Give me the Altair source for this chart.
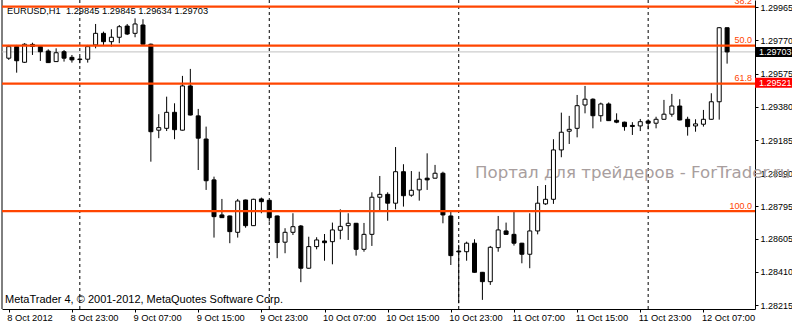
import altair as alt
import pandas as pd

# ---- data (EURUSD H1, 8 Oct 2012 15:00 .. 12 Oct 2012 10:00) ----
hour_index = list(range(92))
opens = [
    1.29666, 1.29734, 1.29642, 1.29747, 1.29734, 1.29708, 1.29646, 1.29704, 1.29671, 1.29661,
    1.29660, 1.29744, 1.29812, 1.29763, 1.29789, 1.29855, 1.29812, 1.29861, 1.29748, 1.29243,
    1.29254, 1.29348, 1.29243, 1.29503, 1.29327, 1.29191, 1.28951, 1.28745, 1.28739, 1.28643,
    1.28833, 1.28682, 1.28839, 1.28831, 1.28739, 1.28585, 1.28643, 1.28680, 1.28432, 1.28559,
    1.28592, 1.28588, 1.28655, 1.28682, 1.28696, 1.28543, 1.28631, 1.28849, 1.28866, 1.28814,
    1.28999, 1.28861, 1.28892, 1.28961, 1.28961, 1.28990, 1.28739, 1.28533, 1.28529, 1.28579,
    1.28408, 1.28353, 1.28553, 1.28651, 1.28631, 1.28579, 1.28514, 1.28651, 1.28810, 1.28837,
    1.29127, 1.29237, 1.29254, 1.29391, 1.29425, 1.29328, 1.29397, 1.29301, 1.29290, 1.29271,
    1.29268, 1.29297, 1.29284, 1.29307, 1.29337, 1.29385, 1.29307, 1.29268, 1.29278, 1.29307,
    1.29410, 1.29845,
]
highs = [
    1.29744, 1.29744, 1.29754, 1.29757, 1.29740, 1.29718, 1.29724, 1.29714, 1.29685, 1.29675,
    1.29744, 1.29867, 1.29822, 1.29836, 1.29861, 1.29867, 1.29900, 1.29895, 1.29752, 1.29337,
    1.29440, 1.29401, 1.29562, 1.29603, 1.29368, 1.29264, 1.28970, 1.28839, 1.28741, 1.28839,
    1.28835, 1.28840, 1.28847, 1.28833, 1.28741, 1.28667, 1.28755, 1.28686, 1.28617, 1.28614,
    1.28633, 1.28700, 1.28778, 1.28755, 1.28698, 1.28698, 1.28878, 1.28974, 1.28878, 1.29144,
    1.29043, 1.29003, 1.28999, 1.29107, 1.29039, 1.28999, 1.28764, 1.28569, 1.28588, 1.28602,
    1.28410, 1.28563, 1.28739, 1.28700, 1.28764, 1.28581, 1.28755, 1.28915, 1.28921, 1.29190,
    1.29346, 1.29327, 1.29450, 1.29503, 1.29430, 1.29405, 1.29406, 1.29342, 1.29293, 1.29290,
    1.29309, 1.29307, 1.29322, 1.29421, 1.29456, 1.29425, 1.29322, 1.29307, 1.29362, 1.29460,
    1.29848, 1.29845,
]
lows = [
    1.29656, 1.29581, 1.29638, 1.29685, 1.29650, 1.29638, 1.29644, 1.29646, 1.29640, 1.29636,
    1.29640, 1.29724, 1.29744, 1.29734, 1.29754, 1.29802, 1.29789, 1.29746, 1.29058, 1.29196,
    1.29238, 1.29190, 1.29241, 1.29330, 1.29009, 1.28892, 1.28612, 1.28727, 1.28579, 1.28612,
    1.28670, 1.28680, 1.28755, 1.28706, 1.28491, 1.28520, 1.28627, 1.28350, 1.28430, 1.28543,
    1.28476, 1.28455, 1.28602, 1.28598, 1.28506, 1.28529, 1.28563, 1.28774, 1.28711, 1.28778,
    1.28794, 1.28852, 1.28829, 1.28892, 1.28959, 1.28696, 1.28451, 1.28226, 1.28476, 1.28406,
    1.28246, 1.28334, 1.28529, 1.28629, 1.28565, 1.28461, 1.28432, 1.28631, 1.28804, 1.28810,
    1.29084, 1.29162, 1.29201, 1.29342, 1.29254, 1.29293, 1.29297, 1.29284, 1.29240, 1.29215,
    1.29238, 1.29248, 1.29254, 1.29305, 1.29322, 1.29301, 1.29211, 1.29234, 1.29264, 1.29305,
    1.29305, 1.29634,
]
closes = [
    1.29734, 1.29651, 1.29748, 1.29735, 1.29704, 1.29640, 1.29698, 1.29666, 1.29656, 1.29658,
    1.29734, 1.29812, 1.29763, 1.29789, 1.29851, 1.29808, 1.29867, 1.29748, 1.29234, 1.29258,
    1.29348, 1.29246, 1.29503, 1.29332, 1.29196, 1.28946, 1.28735, 1.28729, 1.28647, 1.28827,
    1.28682, 1.28837, 1.28823, 1.28729, 1.28583, 1.28643, 1.28676, 1.28432, 1.28559, 1.28598,
    1.28582, 1.28657, 1.28678, 1.28696, 1.28543, 1.28631, 1.28849, 1.28866, 1.28814, 1.28999,
    1.28858, 1.28890, 1.28955, 1.28951, 1.28990, 1.28745, 1.28506, 1.28528, 1.28579, 1.28408,
    1.28353, 1.28555, 1.28657, 1.28631, 1.28579, 1.28514, 1.28651, 1.28814, 1.28837, 1.29127,
    1.29231, 1.29248, 1.29387, 1.29425, 1.29328, 1.29397, 1.29299, 1.29290, 1.29264, 1.29265,
    1.29293, 1.29284, 1.29307, 1.29337, 1.29385, 1.29303, 1.29264, 1.29280, 1.29307, 1.29410,
    1.29845, 1.29703,
]

time_ticks = [0, 8, 16, 24, 32, 40, 48, 56, 64, 72, 80, 88]
time_labels = ["8 Oct 2012", "8 Oct 23:00", "9 Oct 07:00", "9 Oct 15:00", "9 Oct 23:00",
               "10 Oct 07:00", "10 Oct 15:00", "10 Oct 23:00", "11 Oct 07:00",
               "11 Oct 15:00", "11 Oct 23:00", "12 Oct 07:00"]
day_starts = [9, 33, 57, 81]
price_ticks = [1.29965, 1.29770, 1.29575, 1.29380, 1.29185, 1.28990,
               1.28795, 1.28605, 1.28410, 1.28215]
fib_levels = ["38.2", "50.0", "61.8", "100.0"]
fib_prices = [1.29969, 1.29740, 1.29516, 1.28768]
bid_price = [1.29703]
line_price = [1.29521]

title_text = "EURUSD,H1\u00a0 1.29845 1.29845 1.29634 1.29703"
copyright_text = "MetaTrader 4, \u00a9 2001-2012, MetaQuotes Software Corp."
watermark_text = "Портал для трейдеров - ForTrader.ru"

# ---- chart ----
FONT = "Liberation Sans"
W, H = 753, 309
FIB = "#ff4500"

df = pd.DataFrame({"i": hour_index, "open": opens, "high": highs, "low": lows, "close": closes})

xs = alt.Scale(domain=[-0.225, 93.9], nice=False, zero=False)
ys = alt.Scale(domain=[1.281924, 1.300079], nice=False, zero=False)

label_expr = "[" + ",".join("'%s'" % t for t in time_labels) + "][round(datum.value/8)]"
xaxis = alt.Axis(values=time_ticks, labelExpr=label_expr, title=None, grid=False,
                 tickSize=3, labelAlign="left", labelBaseline="top", labelPadding=1,
                 labelOffset=-2, labelFlush=False, labelOverlap=False,
                 domainColor="black", tickColor="black", labelColor="black",
                 labelFont=FONT, labelFontSize=9.3)
yaxis = alt.Axis(orient="right", values=price_ticks, format=".5f", title=None, grid=False,
                 tickSize=3, labelPadding=2, labelBaseline="middle", labelFlush=False,
                 labelOverlap=False, domainColor="black", tickColor="black",
                 labelColor="black", labelFont=FONT, labelFontSize=9)

X = alt.X("i:Q", scale=xs, axis=xaxis)

def Yf(field):
    return alt.Y(field, scale=ys, axis=yaxis)

bid_df = pd.DataFrame({"p": bid_price, "t": ["%.5f" % v for v in bid_price]})
line_df = pd.DataFrame({"p": line_price, "t": ["%.5f" % v for v in line_price]})
fib_df = pd.DataFrame({"level": fib_levels, "p": fib_prices})
sep_df = pd.DataFrame({"i": day_starts})

border = alt.Chart(pd.DataFrame({"a": [0]})).mark_rule(color="black", strokeWidth=1).encode(
    x=alt.value(0), y=alt.value(0), y2=alt.value(H))

bid_line = alt.Chart(bid_df).mark_rule(color="#c0c0c0", strokeWidth=1).encode(y=Yf("p:Q"))

seps = alt.Chart(sep_df).mark_rule(color="black", strokeWidth=1, strokeDash=[3, 3]).encode(x=X)

watermark = alt.Chart(pd.DataFrame({"t": [watermark_text]})).mark_text(
    align="left", baseline="middle", font="DejaVu Sans", fontSize=16.6, color="#a89e9e"
).encode(x=alt.value(473), y=alt.value(173), text="t:N")

wicks = alt.Chart(df).mark_rule(color="black", strokeWidth=1, clip=True).encode(
    x=X, y=Yf("low:Q"), y2="high:Q")

bodies = alt.Chart(df).mark_bar(size=4, stroke="black", strokeWidth=1, clip=True).encode(
    x=X, y=Yf("open:Q"), y2="close:Q",
    fill=alt.condition("datum.close >= datum.open", alt.value("white"), alt.value("black")))

fib_lines = alt.Chart(fib_df).mark_rule(color=FIB, strokeWidth=2.3).encode(y=Yf("p:Q"))
fib_text = alt.Chart(fib_df).mark_text(
    align="right", baseline="alphabetic", dy=-2.5, font=FONT, fontSize=9, color=FIB, clip=True
).encode(x=alt.value(750), y=Yf("p:Q"), text="level:N")

title = alt.Chart(pd.DataFrame({"t": [title_text]})).mark_text(
    align="left", baseline="middle", font=FONT, fontSize=9.3, color="black"
).encode(x=alt.value(5), y=alt.value(10.5), text="t:N")

copyright = alt.Chart(pd.DataFrame({"t": [copyright_text]})).mark_text(
    align="left", baseline="middle", font=FONT, fontSize=11, color="black"
).encode(x=alt.value(3), y=alt.value(300), text="t:N")

bid_box = alt.Chart(bid_df).mark_rect(color="black", yOffset=-5, y2Offset=5).encode(
    x=alt.value(753), x2=alt.value(790), y=Yf("p:Q"), y2="p:Q")
bid_lbl = alt.Chart(bid_df).mark_text(
    align="left", baseline="middle", font=FONT, fontSize=9, color="white"
).encode(x=alt.value(757), y=Yf("p:Q"), text="t:N")

line_box = alt.Chart(line_df).mark_rect(color="#ff0000", yOffset=-5, y2Offset=5).encode(
    x=alt.value(753), x2=alt.value(790), y=Yf("p:Q"), y2="p:Q")
line_lbl = alt.Chart(line_df).mark_text(
    align="left", baseline="middle", font=FONT, fontSize=9, color="white"
).encode(x=alt.value(757), y=Yf("p:Q"), text="t:N")

chart = alt.layer(
    border, bid_line, seps, watermark, wicks, bodies, fib_lines, fib_text,
    title, copyright, bid_box, bid_lbl, line_box, line_lbl
).properties(
    width=W, height=H,
    padding={"left": 2, "top": 0, "right": 37, "bottom": 16},
    autosize=alt.AutoSizeParams(type="none"),
    background="white",
).configure_view(stroke=None)

chart.save("out.html", embed_options={"renderer": "svg", "actions": False})
